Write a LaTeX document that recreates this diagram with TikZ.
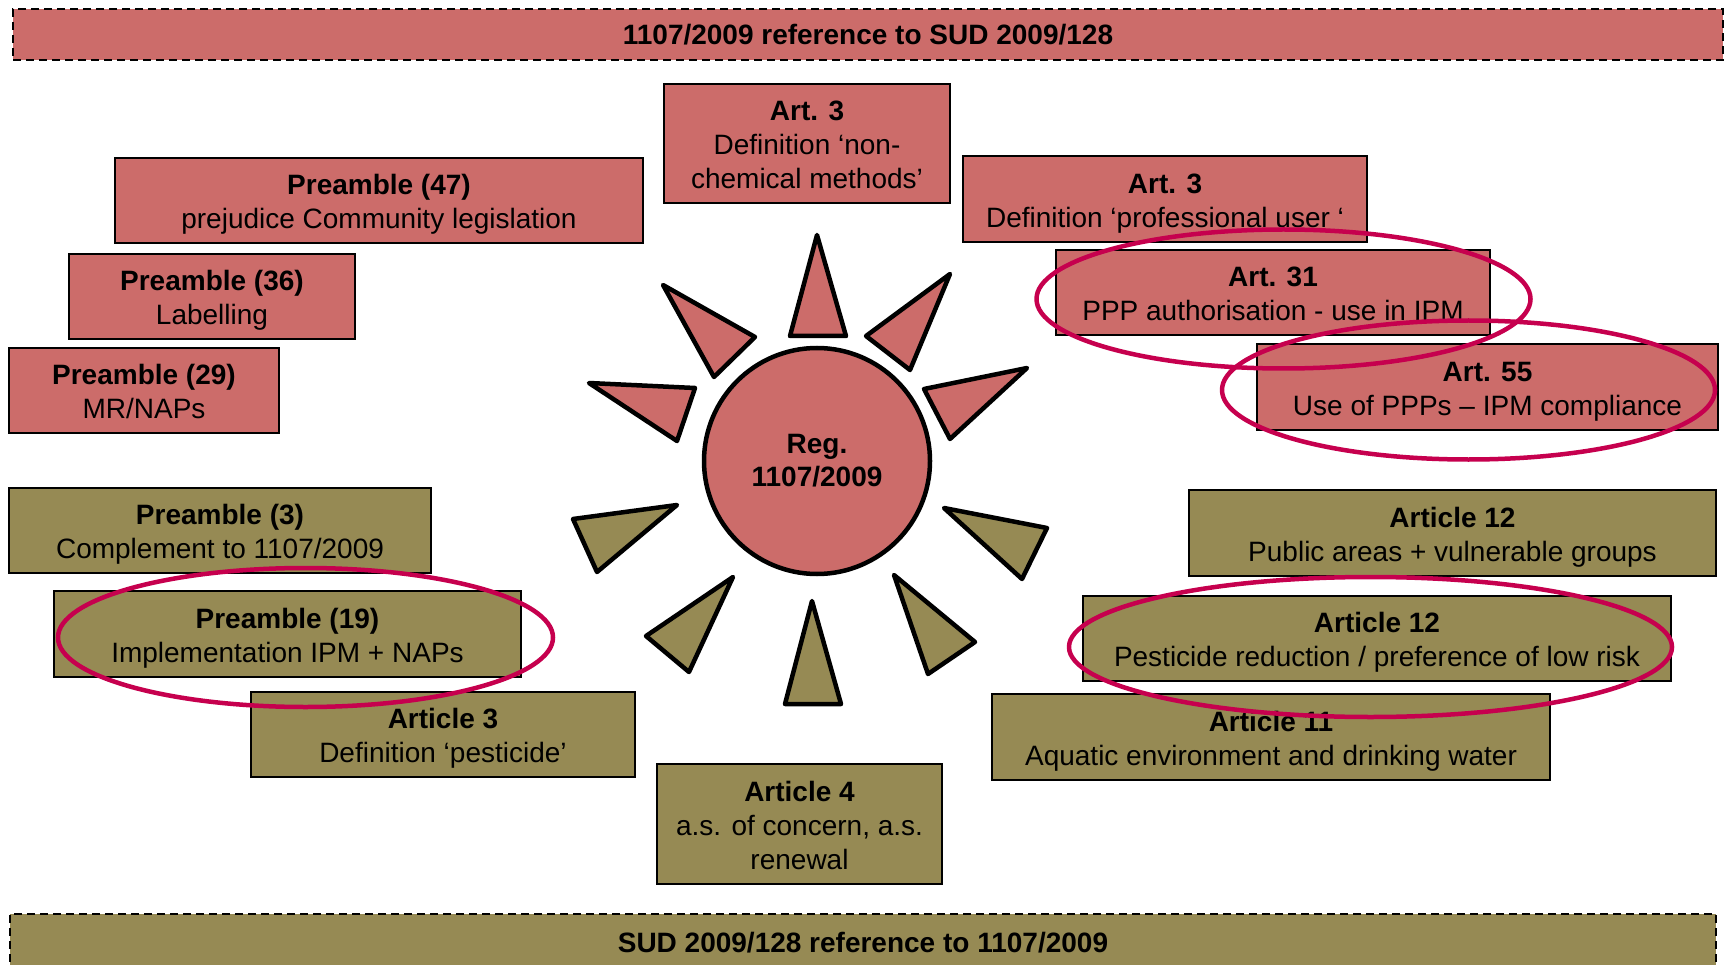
\documentclass[tikz,border=0pt]{standalone}
\usepackage{fontspec}
\setmainfont{Liberation Sans}
\usetikzlibrary{shapes.geometric}
\definecolor{redfill}{RGB}{204,108,106}
\definecolor{olivefill}{RGB}{150,138,84}
\definecolor{ringc}{RGB}{198,0,78}
\newcommand{\tstr}{\rule{0pt}{29.8pt}}
\newcommand{\bstr}{\rule[-7pt]{0pt}{7pt}}
\begin{document}
\begin{tikzpicture}[x=1pt,y=-1pt,
  box/.style={draw=black, line width=2pt, inner sep=0pt, align=center, font=\fontsize{28}{34}\selectfont},
  redbox/.style={box, fill=redfill},
  olivebox/.style={box, fill=olivefill},
  bar/.style={draw=black, line width=2pt, dash pattern=on 8pt off 5pt, inner sep=0pt, font=\fontsize{28}{34}\selectfont\bfseries},
  ray/.style={draw=black, line width=4.5pt, line join=round},
  ring/.style={draw=ringc, line width=4.5pt, ellipse, inner sep=0pt}]
\useasboundingbox (0,0) rectangle (1729,965);
\clip (0,0) rectangle (1729,965);
\fill[white] (0,0) rectangle (1729,965);

% bars
\node[bar, fill=redfill, minimum width=1710pt, minimum height=51pt] (topbar) at (868,34.5) {1107/2009 reference to SUD 2009/128};
\node[bar, fill=olivefill, minimum width=1706pt, minimum height=58pt] (botbar) at (863,943) {SUD 2009/128 reference to 1107/2009};

% red boxes
\node[redbox, minimum width=286pt, minimum height=119pt] (art3top) at (807,143.5) {\tstr\textbf{Art. 3}\\Definition ‘non-\\chemical methods’\bstr};
\node[redbox, minimum width=528pt, minimum height=85pt] (pre47) at (379,200.5) {\tstr\textbf{Preamble (47)}\\prejudice Community legislation\bstr};
\node[redbox, minimum width=404pt, minimum height=86pt] (art3r) at (1165,199) {\tstr\textbf{Art. 3}\\Definition ‘professional user ‘\bstr};
\node[redbox, minimum width=434pt, minimum height=85pt] (art31) at (1273,292.5) {\tstr\textbf{Art. 31}\\PPP authorisation - use in IPM\bstr};
\node[redbox, minimum width=461pt, minimum height=86pt] (art55) at (1487.5,387) {\tstr\textbf{Art. 55}\\Use of PPPs – IPM compliance\bstr};
\node[redbox, minimum width=286pt, minimum height=85pt] (pre36) at (212,296.5) {\tstr\textbf{Preamble (36)}\\Labelling\bstr};
\node[redbox, minimum width=270pt, minimum height=85pt] (pre29) at (144,390.5) {\tstr\textbf{Preamble (29)}\\MR/NAPs\bstr};

% olive boxes
\node[olivebox, minimum width=422pt, minimum height=85pt] (pre3) at (220,530.5) {\tstr\textbf{Preamble (3)}\\Complement to 1107/2009\bstr};
\node[olivebox, minimum width=467pt, minimum height=86pt] (pre19) at (287.5,634) {\tstr\textbf{Preamble (19)}\\Implementation IPM + NAPs\bstr};
\node[olivebox, minimum width=384pt, minimum height=85pt] (art3o) at (443,734.5) {\tstr\textbf{Article 3}\\Definition ‘pesticide’\bstr};
\node[olivebox, minimum width=285pt, minimum height=120pt] (art4) at (799.5,824) {\tstr\textbf{Article 4}\\a.s. of concern, a.s.\\renewal\bstr};
\node[olivebox, minimum width=527pt, minimum height=86pt] (art12a) at (1452.5,533) {\tstr\textbf{Article 12}\\Public areas + vulnerable groups\bstr};
\node[olivebox, minimum width=588pt, minimum height=85pt] (art12b) at (1377,638.5) {\tstr\textbf{Article 12}\\Pesticide reduction / preference of low risk\bstr};
\node[olivebox, minimum width=558pt, minimum height=86pt] (art11) at (1271,737) {\tstr\textbf{Article 11}\\Aquatic environment and drinking water\bstr};

% sun rays
\draw[ray, fill=redfill] (817,235) -- (790,336) -- (846,336) -- cycle;
\draw[ray, fill=redfill] (663,285) -- (755,337) -- (714,377) -- cycle;
\draw[ray, fill=redfill] (589,383) -- (695,388) -- (677,441) -- cycle;
\draw[ray, fill=redfill] (950,274) -- (866,336) -- (910,370) -- cycle;
\draw[ray, fill=redfill] (1027,368) -- (924,389) -- (950,439) -- cycle;
\draw[ray, fill=olivefill] (573,519) -- (677,505) -- (597,572) -- cycle;
\draw[ray, fill=olivefill] (733,577) -- (646,636) -- (689,672) -- cycle;
\draw[ray, fill=olivefill] (812,601) -- (785,704) -- (841,704) -- cycle;
\draw[ray, fill=olivefill] (894,575) -- (975,642) -- (928,674) -- cycle;
\draw[ray, fill=olivefill] (944,508) -- (1047,528) -- (1022,579) -- cycle;

% centre
\node[circle, draw=black, line width=4.5pt, fill=redfill, minimum size=226pt, inner sep=0pt, align=center, font=\fontsize{28}{33}\selectfont\bfseries] (reg) at (817,461) {Reg.\\1107/2009};

% highlight rings
\node[ring, minimum width=494pt, minimum height=139pt] (e31) at (1283.5,299) {};
\node[ring, minimum width=493pt, minimum height=139pt] (e55) at (1468.5,390) {};
\node[ring, minimum width=495pt, minimum height=139pt] (e19) at (305.5,637.5) {};
\node[ring, minimum width=603pt, minimum height=140pt] (e12) at (1370.5,647) {};
\end{tikzpicture}
\end{document}
